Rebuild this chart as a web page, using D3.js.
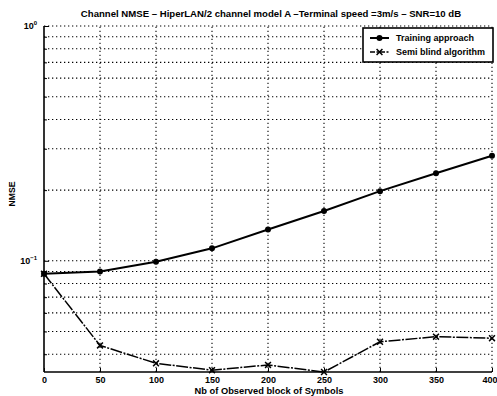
<!DOCTYPE html>
<html lang="en">
<head>
<meta charset="utf-8">
<script src="https://cdn.jsdelivr.net/npm/d3@7"></script>
<style>
body { margin:0; background:#fff; }
svg { display:block; }
text { font-family: "Liberation Sans", Arial, sans-serif; font-weight:bold; fill:#000; }
.grid line { stroke:#000; stroke-width:1.1; stroke-dasharray:1.3,2.7; }
.axis path, .axis line { stroke:#000; }
</style>
</head>
<body>
<svg id="chart"></svg>
<script>
// data
var blocks = [0, 50, 100, 150, 200, 250, 300, 350, 400];
var training = [0.088, 0.090, 0.099, 0.113, 0.136, 0.163, 0.198, 0.236, 0.280];
var semiBlind = [0.088, 0.0436, 0.0366, 0.0342, 0.0360, 0.0336, 0.0452, 0.0475, 0.0468];
var xTicks = [0, 50, 100, 150, 200, 250, 300, 350, 400];
var yMinor = [0.04, 0.05, 0.06, 0.07, 0.08, 0.09, 0.1, 0.2, 0.3, 0.4, 0.5, 0.6, 0.7, 0.8, 0.9, 1];
var seriesNames = ["Training approach", "Semi blind algorithm"];

var W = 497, H = 396;
var m = {left:44, right:5, top:26, bottom:24};

var svg = d3.select('#chart').attr('width', W).attr('height', H);

var x = d3.scaleLinear().domain([0, 400]).range([m.left, W - m.right]);
var y = d3.scaleLog().domain([0.0336, 1]).range([H - m.bottom, m.top]);

// grid
var grid = svg.append('g').attr('class', 'grid');
grid.selectAll('line.gx').data(xTicks.slice(1)).enter().append('line')
	.attr('x1', function(d){ return x(d); }).attr('x2', function(d){ return x(d); })
	.attr('y1', y.range()[0]).attr('y2', y.range()[1]);
grid.selectAll('line.gy').data(yMinor).enter().append('line')
	.attr('x1', x.range()[0]).attr('x2', x.range()[1])
	.attr('y1', function(d){ return y(d); }).attr('y2', function(d){ return y(d); });

// axes
var xAxis = d3.axisBottom(x).tickValues(xTicks).tickSize(-4).tickPadding(6).tickFormat(d3.format('d'));
var gx = svg.append('g').attr('class', 'axis')
	.attr('transform', 'translate(0,' + (H - m.bottom) + ')')
	.call(xAxis);
gx.select('.domain').attr('stroke-width', 1.6).attr('d', 'M' + x.range()[0] + ',0H' + x.range()[1]);
gx.selectAll('text').attr('font-size', 9).attr('dy', '0.55em')
	.attr('text-anchor', function(d){ return d === 400 ? 'end' : 'middle'; })
	.attr('dx', function(d){ return d === 400 ? 5 : 0; });

var yAxis = d3.axisLeft(y).tickValues(yMinor).tickSize(-3).tickFormat('');
var gy = svg.append('g').attr('class', 'axis')
	.attr('transform', 'translate(' + m.left + ',0)')
	.call(yAxis);
gy.select('.domain').attr('stroke-width', 1.6).attr('d', 'M0,' + y.range()[0] + 'V' + y.range()[1]);
gy.selectAll('.tick line').attr('x2', function(d){ return (d === 1 || d === 0.1) ? 5 : 3; });

// decade labels 10^0 and 10^-1
[[1, '0'], [0.1, '\u22121']].forEach(function(p){
	var t = svg.append('text').attr('x', m.left - 7).attr('y', y(p[0]) + 3)
		.attr('text-anchor', 'end').attr('font-size', 9);
	t.append('tspan').text('10');
	t.append('tspan').attr('dy', -4).attr('font-size', 6).text(p[1]);
});

// lines
var line = d3.line().x(function(d){ return x(d[0]); }).y(function(d){ return y(d[1]); });
var tData = d3.zip(blocks, training), sData = d3.zip(blocks, semiBlind);

svg.append('path').datum(tData).attr('d', line)
	.attr('fill', 'none').attr('stroke', '#000').attr('stroke-width', 2);
svg.append('path').datum(sData).attr('d', line)
	.attr('fill', 'none').attr('stroke', '#000').attr('stroke-width', 1.5)
	.attr('stroke-dasharray', '12,1.5,2,1.5');

svg.selectAll('circle.t').data(tData).enter().append('circle')
	.attr('cx', function(d){ return x(d[0]); }).attr('cy', function(d){ return y(d[1]); })
	.attr('r', 3).attr('fill', '#000');

var cross = d3.symbol().type(d3.symbolTimes).size(24);
svg.selectAll('path.s').data(sData).enter().append('path')
	.attr('d', cross)
	.attr('transform', function(d){ return 'translate(' + x(d[0]) + ',' + y(d[1]) + ')'; })
	.attr('fill', 'none').attr('stroke', '#000').attr('stroke-width', 1.5);

// title and labels
svg.append('text').attr('x', 271).attr('y', 17)
	.attr('text-anchor', 'middle').attr('font-size', 9.6)
	.text('Channel NMSE \u2013 HiperLAN/2 channel model A \u2013Terminal speed =3m/s \u2013 SNR=10 dB');
svg.append('text').attr('x', 269).attr('y', 394)
	.attr('text-anchor', 'middle').attr('font-size', 9.3)
	.text('Nb of Observed block of Symbols');
svg.append('text').attr('transform', 'translate(15,194) rotate(-90)')
	.attr('text-anchor', 'middle').attr('font-size', 8.6).text('NMSE');

// legend
var lg = svg.append('g').attr('transform', 'translate(363,28)');
lg.append('rect').attr('width', 130).attr('height', 34)
	.attr('fill', '#fff').attr('stroke', '#000').attr('stroke-width', 1.6);
seriesNames.forEach(function(name, i){
	var yy = 10 + i * 14;
	lg.append('line').attr('x1', 7).attr('x2', 26).attr('y1', yy).attr('y2', yy)
		.attr('stroke', '#000').attr('stroke-width', i ? 1.5 : 2)
		.attr('stroke-dasharray', i ? '5,1.5,2,1.5' : null);
	if (i === 0) {
		lg.append('circle').attr('cx', 16.5).attr('cy', yy).attr('r', 3).attr('fill', '#000');
	} else {
		lg.append('path').attr('d', cross).attr('transform', 'translate(16.5,' + yy + ')')
			.attr('fill', 'none').attr('stroke', '#000').attr('stroke-width', 1.5);
	}
	lg.append('text').attr('x', 33).attr('y', yy + 3).attr('font-size', 9).text(name);
});
</script>
</body>
</html>
